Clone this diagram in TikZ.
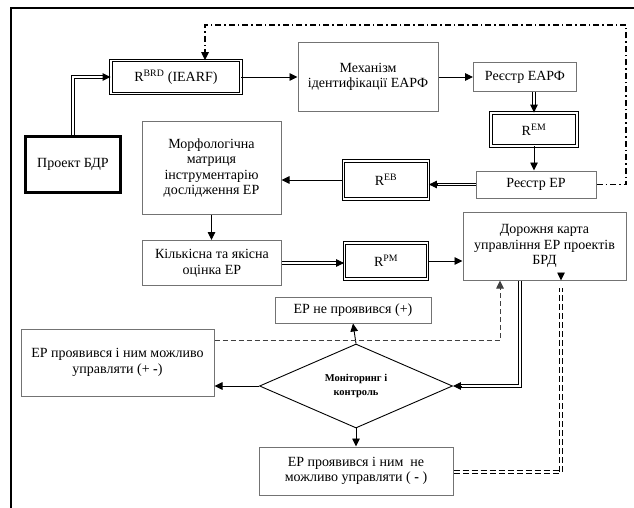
\documentclass[tikz,border=0pt]{standalone}
\usepackage{fontspec}
\setmainfont{Liberation Serif}
\usetikzlibrary{
	arrows.meta,
	positioning,
	calc,
	shapes.geometric
}

\tikzset{
	box/.style={draw=black!55, line width=1pt, align=center, inner sep=2pt,
		font=\fontsize{14}{15.5}\selectfont},
	rbox/.style={draw=black, double, double distance=1.6pt, line width=0.8pt,
		align=center, font=\fontsize{14}{15.5}\selectfont},
	arr/.style={-{Triangle[length=8pt,width=7.5pt]}, line width=0.9pt},
	dbl/.style={draw=black, double, double distance=1.8pt, line width=0.8pt, shorten >=7pt},
	dasharr/.style={arr, dashed, dash pattern=on 5pt off 3pt},
	dashdotline/.style={line width=1.4pt, dash pattern=on 6pt off 3pt on 1.5pt off 3pt}
}

\begin{document}
\begin{tikzpicture}[x=1pt,y=-1pt]
		
		\useasboundingbox (0,0) rectangle (634,508);
		\draw[line width=1.2pt] (11,508) -- (11,8) -- (634,8);
		
		% upper part
		\node[box, draw=black, line width=3pt, minimum width=95pt, minimum height=56pt] (proj) at (73,164) {Проект БДР};
		\node[rbox, minimum width=130pt, minimum height=33pt] (rbrd) at (176,77) {R\textsuperscript{BRD} (IEARF)};
		\node[box, minimum width=140pt, minimum height=69pt] (mech) at (368,77) {Механізм\\ідентифікації ЕАРФ};
		\node[box, minimum width=103pt, minimum height=29pt] (reap) at (525,77) {Реєстр ЕАРФ};
		\node[rbox, minimum width=86pt, minimum height=33pt] (rem) at (534,129.5) {R\textsuperscript{EM}};
		\node[box, minimum width=120pt, minimum height=27pt] (reep) at (536,184.5) {Реєстр ЕР};
		\node[rbox, minimum width=85pt, minimum height=38pt] (reb) at (386,180) {R\textsuperscript{EB}};
		\node[box, minimum width=139pt, minimum height=92pt] (morph) at (211.5,168) {Морфологічна\\матриця\\інструментарію\\дослідження ЕР};
		\node[box, minimum width=139pt, minimum height=45pt] (kil) at (212,263) {Кількісна та якісна\\оцінка ЕР};
		\node[rbox, minimum width=83pt, minimum height=36pt] (rpm) at (386,261) {R\textsuperscript{PM}};
		\node[box, minimum width=163pt, minimum height=68pt] (road) at (544.5,246) {Дорожня карта\\управління ЕР проектів\\БРД};
		
		% lower part
		\node[box, minimum width=156pt, minimum height=26pt] (nepr) at (353,310) {ЕР не проявився (+)};
		\node[draw, diamond, line width=0.9pt, inner sep=0pt, aspect=2.3,
			minimum width=193pt, minimum height=84pt, align=center,
			font=\fontsize{10.5}{13.5}\selectfont\bfseries] (dia) at (356,386) {Моніторинг і\\контроль};
		\node[box, minimum width=193pt, minimum height=67pt] (ep2) at (117.5,362.5) {ЕР проявився і ним можливо\\управляти (+ \textbf{-})};
		\node[box, minimum width=194pt, minimum height=48pt] (nel) at (356,471) {ЕР проявився і ним\ \ не\\можливо управляти ( \textbf{-} )};
		
		\coordinate (dd1) at (626,25);
		\coordinate (dd2) at (205,25);
		\coordinate (dsh) at (500,340);
		\coordinate (dl) at (520,386);
		\coordinate (dd3) at (561,472);
		
		% connectors
		\draw[dbl] (proj.north) |- (rbrd.west);
		\draw[arr] ([xshift=-8pt]rbrd.west) -- (rbrd.west);
		\draw[arr] (rbrd.east) -- (mech.west);
		\draw[arr] (mech.east) -- (reap.west);
		\draw[dbl] (rem.north |- reap.south) -- (rem.north);
		\draw[arr] ([yshift=8pt]rem.north) -- (rem.north);
		\draw[arr] (rem.south) -- (rem.south |- reep.north);
		\draw[dbl] (reep.west) -- (reep.west -| reb.east);
		\draw[arr] ([xshift=8pt]reep.west -| reb.east) -- (reep.west -| reb.east);
		\draw[arr] (reb.west) -- (reb.west -| morph.east);
		\draw[arr] (morph.south) -- (morph.south |- kil.north);
		\draw[dbl] (kil.east) -- (kil.east -| rpm.west);
		\draw[arr] ([xshift=-8pt]kil.east -| rpm.west) -- (kil.east -| rpm.west);
		\draw[arr] (rpm.east) -- (rpm.east -| road.west);
		\draw[dashdotline, -{Triangle[length=8pt,width=7.5pt]}] (reep.east) -| (dd1) -- (dd2) -- (dd2 |- rbrd.north);
		
		\draw[arr] (dia.north) -- (nepr.south);
		\draw[arr] (dia.west) -- (dia.west -| ep2.east);
		\draw[arr] (dia.south) -- (nel.north);
		\draw[dasharr, draw=black!75] (dsh -| ep2.east) -- (dsh) -- (dsh |- road.south);
		\draw[dbl] (dl |- road.south) -- (dl) -- (dia.east);
		\draw[arr] ([xshift=8pt]dia.east) -- (dia.east);
		\draw[dbl, dashed, dash pattern=on 6pt off 3pt] (dd3 -| nel.east) -- (dd3) -- (dd3 |- road.south);
		\draw[arr] ([yshift=8pt]dd3 |- road.south) -- (dd3 |- road.south);
		
	\end{tikzpicture}
\end{document}
